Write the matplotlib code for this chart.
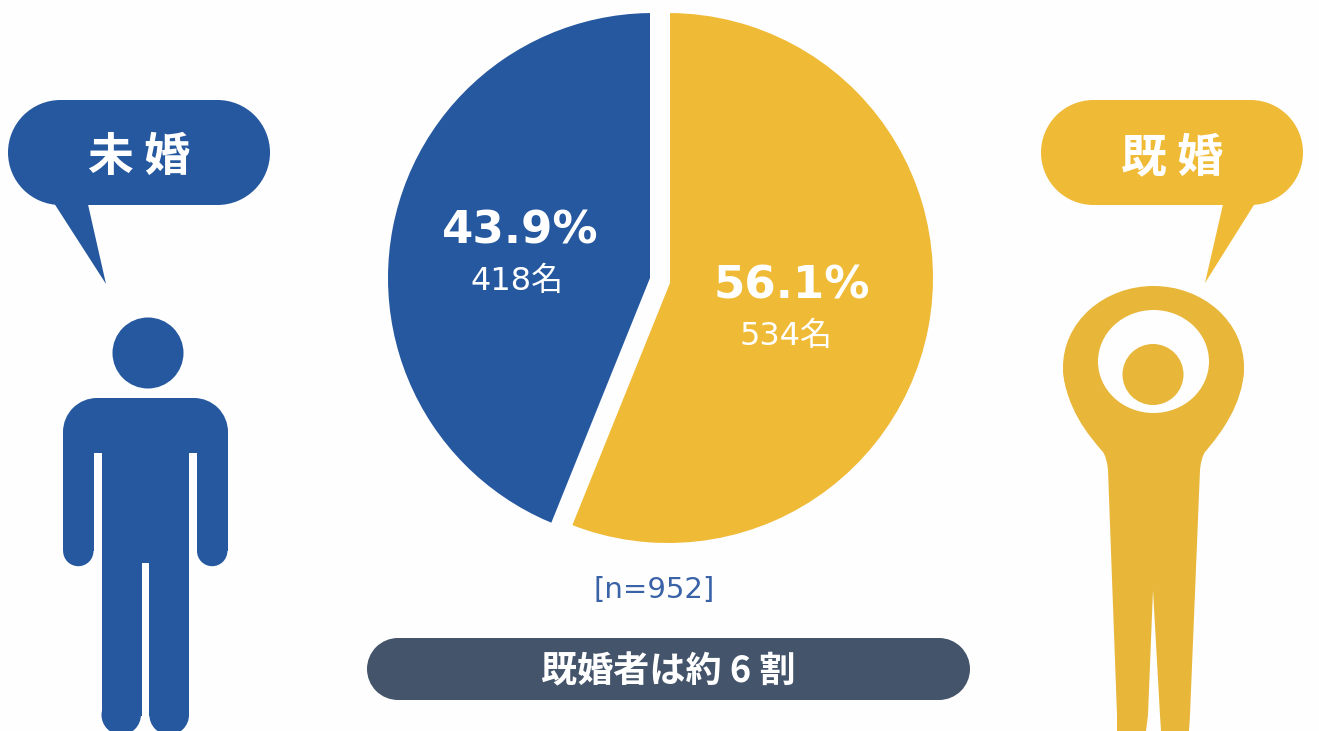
import math
import matplotlib
matplotlib.use('Agg')
import matplotlib.pyplot as plt
from matplotlib.patches import Circle, Ellipse, PathPatch, Polygon, Rectangle, Wedge
from matplotlib.path import Path

plt.rcParams['font.family'] = ['Noto Sans CJK JP', 'DejaVu Sans']

categories = ['未婚', '既婚']
percent = [43.9, 56.1]
counts = [418, 534]
n_total = 952
footer = '既婚者は約 6 割'
BLUE = '#25589F'
GOLD = '#EFBA35'
GOLD_FIG = '#E8B639'
DARK = '#44546A'
BG = '#FEFEFE'

W, H = 1319, 731
fig = plt.figure(figsize=(W / 100, H / 100), dpi=100, facecolor=BG)
ax = fig.add_axes([0, 0, 1, 1])
ax.set_xlim(0, W)
ax.set_ylim(H, 0)
ax.axis('off')


def add(*patches, color):
    for p in patches:
        p.set(fc=color, ec='none')
        ax.add_patch(p)


# Pie: y axis is inverted, so angles run clockwise from +x, starting at the top
total = sum(percent)
cut = -90 + 360 * percent[1] / total
dx, dy = math.cos(math.radians(cut)), math.sin(math.radians(cut))
far = 460

gold = Wedge((668, 278), 265, -100, cut + 10)
blue = Wedge((653, 278), 265, cut - 10, 280)
add(gold, color=GOLD)
add(blue, color=BLUE)
gold_clip = Polygon([(670, 0), (W, 0), (W, H), (670 + far * dx, 283 + far * dy), (670, 283)],
                    transform=ax.transData)
blue_clip = Polygon([(650, 0), (0, 0), (0, H), (650 + far * dx, 278 + far * dy), (650, 278)],
                    transform=ax.transData)
gold.set_clip_path(gold_clip)
blue.set_clip_path(blue_clip)


def pill(x0, y0, x1, y1, color):
    r = (y1 - y0) / 2
    add(Circle((x0 + r, y0 + r), r), Circle((x1 - r, y0 + r), r),
        Rectangle((x0 + r, y0), x1 - x0 - 2 * r, y1 - y0), color=color)


# Speech bubbles
pill(8, 100, 270, 205, BLUE)
add(Polygon([(52, 200), (87, 200), (106, 284)]), color=BLUE)
pill(1041, 100, 1303, 205, GOLD)
add(Polygon([(1224, 200), (1257, 200), (1205, 283)]), color=GOLD)

# Unmarried figure
add(Circle((148, 353), 35.5),
    Circle((97, 432), 34), Circle((194, 432), 34),
    Rectangle((97, 398), 97, 34),
    Rectangle((63, 432), 165, 21),
    color=BLUE)
add(Rectangle((93.5, 453), 8, 30), Rectangle((189, 453), 8, 30), color=BG)
add(Rectangle((63, 432), 30.5, 119), Circle((78.3, 551), 15.2),
    Rectangle((197, 432), 30.5, 119), Circle((212.2, 551), 15.2),
    Rectangle((101.5, 432), 87.5, 284),
    Circle((121.2, 715), 19.7), Circle((169.2, 715), 19.8),
    color=BLUE)
add(Rectangle((141.5, 563), 7.5, 168), color=BG)

# Married figure
C3, C4, L, M = Path.CURVE3, Path.CURVE4, Path.LINETO, Path.MOVETO
verts = [(1063, 370),
         (1066, 408), (1088, 435), (1103, 452),
         (1107, 458), (1108, 470),
         (1117, 715), (1117, 731),
         (1146, 731), (1148, 715),
         (1153, 590),
         (1160, 715), (1161, 731),
         (1189, 731), (1190, 715),
         (1200, 470),
         (1201, 458), (1205, 452),
         (1222, 432), (1242, 405), (1244, 370)]
codes = [M, C4, C4, C4, C3, C3, L, L, L, L, L, L, L, L, L, L, C3, C3, C4, C4, C4]
add(PathPatch(Path(verts, codes)), Ellipse((1153.5, 367), 181, 162), color=GOLD_FIG)
add(Ellipse((1153.5, 361.5), 111, 103), color=BG)
add(Circle((1153, 374.5), 30.5), color=GOLD_FIG)

# Text
latin = ['DejaVu Sans', 'Noto Sans CJK JP']
ax.text(139, 158, f'{categories[0][0]} {categories[0][1]}', color='white', fontsize=33,
        fontweight='bold', ha='center', va='center')
ax.text(1172, 158, f'{categories[1][0]} {categories[1][1]}', color='white', fontsize=33,
        fontweight='bold', ha='center', va='center')
ax.text(520, 231, f'{percent[0]}%', color='white', fontsize=32.5, fontweight='bold',
        family=latin, ha='center', va='center')
ax.text(517, 281, f'{counts[0]}名', color='white', fontsize=23, ha='center', va='center',
        family=latin)
ax.text(792, 286, f'{percent[1]}%', color='white', fontsize=32.5, fontweight='bold',
        family=latin, ha='center', va='center')
ax.text(786, 336, f'{counts[1]}名', color='white', fontsize=23, ha='center', va='center',
        family=latin)
ax.text(654, 590, f'[n={n_total}]', color='#3A62A6', fontsize=21, ha='center', va='center',
        family=latin)
pill(367, 638, 970, 700, DARK)
ax.text(668, 672, footer, color='white', fontsize=26, fontweight='bold', ha='center', va='center')

fig.savefig('out.png', dpi=100, facecolor=fig.get_facecolor())
